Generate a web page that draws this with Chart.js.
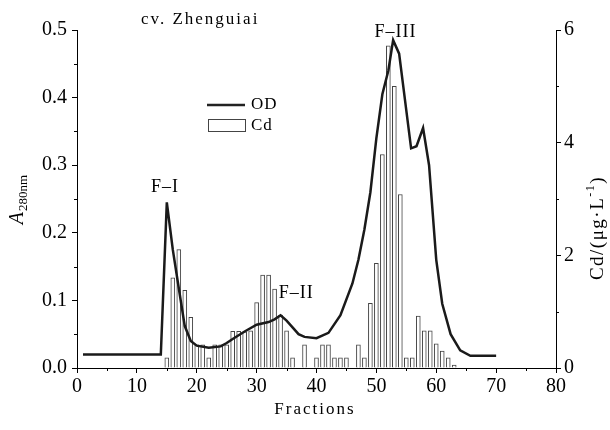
<!DOCTYPE html>
<html>
<head>
<meta charset="utf-8">
<script src="https://cdn.jsdelivr.net/npm/chart.js@4.4.0/dist/chart.umd.min.js"></script>
<style>
body{margin:0;background:#fff;}
#wrap{width:610px;height:430px;position:relative;}
</style>
</head>
<body>
<div id="wrap"><canvas id="myChart" width="610" height="430"></canvas></div>
<script>
// OD (A280nm) curve, fraction -> absorbance
var odX = [1, 14, 15, 16, 17, 18, 19, 20, 22, 24, 25, 26, 28, 30, 32, 33, 34, 35, 36, 37, 38, 40, 42, 44, 46, 47, 48, 49, 50, 51, 52, 52.8, 53.8, 55.8, 56.7, 57.8, 58.8, 60, 61, 62.4, 64, 65.7, 70];
var odY = [0.02, 0.02, 0.245, 0.175, 0.118, 0.062, 0.04, 0.033, 0.03, 0.032, 0.037, 0.043, 0.054, 0.064, 0.068, 0.072, 0.078, 0.07, 0.06, 0.05, 0.046, 0.044, 0.052, 0.078, 0.125, 0.16, 0.205, 0.26, 0.34, 0.405, 0.44, 0.485, 0.465, 0.325, 0.328, 0.355, 0.3, 0.16, 0.095, 0.05, 0.026, 0.018, 0.018];

// Cd content per fraction (ug/L)
var cdX = [15, 16, 17, 18, 19, 20, 21, 22, 23, 24, 25, 26, 27, 28, 29, 30, 31, 32, 33, 34, 35, 36, 38, 40, 41, 42, 43, 44, 45, 47, 48, 49, 50, 51, 52, 53, 54, 55, 56, 57, 58, 59, 60, 61, 62, 63];
var cdY = [0.18, 1.6, 2.1, 1.38, 0.9, 0.41, 0.41, 0.18, 0.41, 0.41, 0.41, 0.65, 0.65, 0.64, 0.66, 1.16, 1.65, 1.65, 1.4, 0.94, 0.66, 0.18, 0.41, 0.18, 0.41, 0.41, 0.18, 0.18, 0.18, 0.41, 0.18, 1.15, 1.86, 3.79, 5.72, 5.0, 3.08, 0.18, 0.18, 0.92, 0.66, 0.66, 0.43, 0.3, 0.18, 0.05];

// peak labels
var peakLabels = ["F\u2013I", "F\u2013II", "F\u2013III"];
var peakX = [14.7, 36.6, 53.2];
var peakY = [0.268, 0.111, 0.497];

var odPts = [];
for (var i = 0; i < odX.length; i++) odPts.push({x: odX[i], y: odY[i]});
var cdPts = [];
for (var j = 0; j < cdX.length; j++) cdPts.push({x: cdX[j], y: cdY[j]});

var serif = '"Liberation Serif", "DejaVu Serif", serif';

function spaced(ctx, txt, x, y, sp) {
  ctx.letterSpacing = sp + 'px';
  ctx.fillText(txt, x, y);
  ctx.letterSpacing = '0px';
}

var extras = {
  id: 'extras',
  afterDraw: function(chart) {
    var ctx = chart.ctx;
    var xs = chart.scales.x, ys = chart.scales.y, y2 = chart.scales.y2;
    var a = chart.chartArea;
    ctx.save();
    ctx.strokeStyle = '#000';
    ctx.lineWidth = 1;
    // minor ticks
    ctx.beginPath();
    for (var v = 0.05; v < 0.5; v += 0.1) {
      var py = Math.round(ys.getPixelForValue(v)) + 0.5;
      ctx.moveTo(a.left, py); ctx.lineTo(a.left - 3, py);
    }
    for (var w = 1; w < 6; w += 2) {
      var py2 = Math.round(y2.getPixelForValue(w)) + 0.5;
      ctx.moveTo(a.right, py2); ctx.lineTo(a.right + 3, py2);
    }
    for (var f = 5; f < 80; f += 10) {
      var px = Math.round(xs.getPixelForValue(f)) + 0.5;
      ctx.moveTo(px, a.bottom); ctx.lineTo(px, a.bottom + 3);
    }
    ctx.stroke();

    ctx.fillStyle = '#000';
    ctx.textAlign = 'center';
    ctx.textBaseline = 'middle';
    // peak labels
    ctx.font = '18px ' + serif;
    for (var k = 0; k < peakLabels.length; k++) {
      spaced(ctx, peakLabels[k], xs.getPixelForValue(peakX[k]), ys.getPixelForValue(peakY[k]), 1);
    }
    // title
    ctx.font = '17px ' + serif;
    ctx.textAlign = 'left';
    spaced(ctx, 'cv. Zhenguiai', 141, 20, 2);
    // legend
    ctx.strokeStyle = '#222';
    ctx.lineWidth = 2.5;
    ctx.beginPath(); ctx.moveTo(207, 105); ctx.lineTo(245, 105); ctx.stroke();
    ctx.strokeStyle = '#444';
    ctx.lineWidth = 1;
    ctx.strokeRect(208.5, 119.5, 37, 12);
    ctx.font = '17px ' + serif;
    spaced(ctx, 'OD', 251, 105, 1);
    spaced(ctx, 'Cd', 251, 126, 1);
    // x title
    ctx.textAlign = 'center';
    ctx.font = '17px ' + serif;
    spaced(ctx, 'Fractions', 315, 410, 2);

    // left y title: A280nm
    ctx.save();
    ctx.translate(18, 200);
    ctx.rotate(-Math.PI / 2);
    ctx.textAlign = 'left';
    ctx.font = 'italic 20px ' + serif;
    var wA = ctx.measureText('A').width;
    ctx.font = '13px ' + serif;
    var wS = ctx.measureText('280nm').width;
    var st = -(wA + wS) / 2;
    ctx.font = 'italic 20px ' + serif;
    ctx.fillText('A', st, 0);
    ctx.font = '13px ' + serif;
    ctx.fillText('280nm', st + wA + 1, 6);
    ctx.restore();

    // right y title: Cd/(ug.L-1)
    ctx.save();
    ctx.translate(598, 228);
    ctx.rotate(-Math.PI / 2);
    ctx.textAlign = 'left';
    ctx.font = '19px ' + serif;
    ctx.letterSpacing = '1.5px';
    var w1 = ctx.measureText('Cd/(\u03bcg\u00b7L').width;
    var w3 = ctx.measureText(')').width;
    ctx.font = '12px ' + serif;
    var w2 = ctx.measureText('-1').width;
    var s0 = -(w1 + w2 + w3) / 2;
    ctx.font = '19px ' + serif;
    ctx.fillText('Cd/(\u03bcg\u00b7L', s0, 0);
    ctx.font = '12px ' + serif;
    ctx.fillText('-1', s0 + w1, -7);
    ctx.font = '19px ' + serif;
    ctx.fillText(')', s0 + w1 + w2, 0);
    ctx.letterSpacing = '0px';
    ctx.restore();

    ctx.restore();
  }
};

var tickFont = {family: serif, size: 20};

var ctx = document.getElementById('myChart').getContext('2d');
var chart = new Chart(ctx, {
  type: 'bar',
  data: {
    datasets: [{
      type: 'line',
      label: 'OD',
      data: odPts,
      xAxisID: 'x',
      yAxisID: 'y',
      borderColor: '#1a1a1a',
      borderWidth: 2.5,
      pointRadius: 0,
      tension: 0,
      fill: false,
      order: 0
    }, {
      type: 'bar',
      label: 'Cd',
      data: cdPts,
      xAxisID: 'x',
      yAxisID: 'y2',
      backgroundColor: '#fff',
      borderColor: '#444',
      borderWidth: 1,
      barThickness: 4,
      order: 1
    }]
  },
  options: {
    responsive: false,
    animation: false,
    layout: {padding: {top: 30, left: 0, right: 0, bottom: 0}},
    plugins: {legend: {display: false}, tooltip: {enabled: false}},
    scales: {
      x: {
        type: 'linear',
        min: 0, max: 80,
        offset: false,
        ticks: {stepSize: 10, color: '#000', font: tickFont, padding: 2, maxRotation: 0},
        grid: {drawOnChartArea: false, offset: false, tickLength: 5, color: '#000'},
        border: {color: '#000', width: 1},
        afterFit: function(s) { s.height = 62; }
      },
      y: {
        position: 'left',
        min: 0, max: 0.5,
        ticks: {stepSize: 0.1, color: '#000', font: tickFont, padding: 5,
          callback: function(v) { return v.toFixed(1); }},
        grid: {drawOnChartArea: false, tickLength: 5, color: '#000'},
        border: {color: '#000', width: 1},
        afterFit: function(s) { s.width = 77; }
      },
      y2: {
        position: 'right',
        min: 0, max: 6,
        ticks: {stepSize: 2, color: '#000', font: tickFont, padding: 3},
        grid: {drawOnChartArea: false, tickLength: 5, color: '#000'},
        border: {color: '#000', width: 1},
        afterFit: function(s) { s.width = 54; }
      }
    }
  },
  plugins: [extras]
});
</script>
</body>
</html>
